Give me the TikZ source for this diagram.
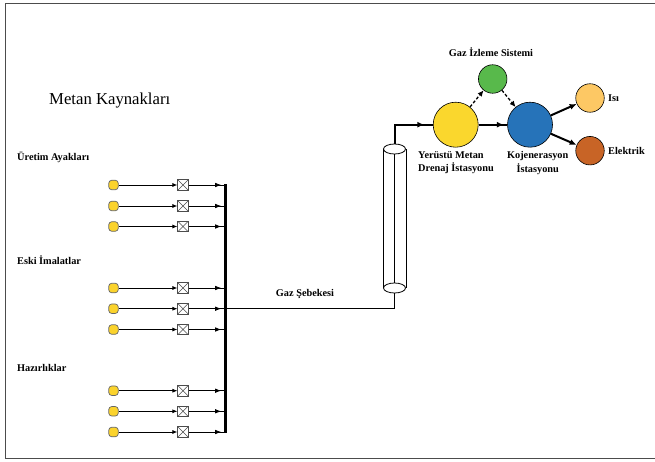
\documentclass[tikz,border=0pt]{standalone}
\usepackage{fontspec}
\setmainfont{Liberation Serif}
\usetikzlibrary{arrows.meta,decorations.markings,shapes.geometric}

\begin{document}
\begin{tikzpicture}[x=1pt,y=-1pt,thin,
  source node/.style={rectangle,rounded corners=3pt,draw=black!60,fill=srcyellow,
    minimum size=9.5pt,inner sep=0pt,line width=.7pt},
  valve node/.style={rectangle,draw=black!70,fill=white,minimum size=10.5pt,inner sep=0pt,
    line width=.6pt,
    path picture={\draw[line width=.5pt] (path picture bounding box.north west) -- (path picture bounding box.south east)
      (path picture bounding box.north east) -- (path picture bounding box.south west);}},
  station node/.style={circle,draw=black,line width=.6pt,inner sep=0pt,minimum size=45pt},
  small node/.style={circle,draw=black,line width=.6pt,inner sep=0pt,minimum size=28.5pt},
  label node/.style={font=\fontsize{10.3}{13.7}\selectfont\bfseries,inner sep=0pt,align=center},
  head at/.style={decoration={markings,mark=at position #1 with {\arrow{Latex[length=6pt,width=4.5pt]}}},postaction={decorate}},
  big head at/.style={decoration={markings,mark=at position #1 with {\arrow{Latex[length=7pt,width=6pt]}}},postaction={decorate}},
  thin line/.style={line width=.8pt},
  thick line/.style={line width=2pt}]
  \definecolor{srcyellow}{HTML}{FBD32C}
  \useasboundingbox (0,0) rectangle (655,462);

  % frame, open on the right
  \coordinate (ftr) at (655,4);
  \coordinate (ftl) at (5,4);
  \coordinate (fbl) at (5,458);
  \coordinate (fbr) at (655,458);
  \draw[black!70,line width=1pt] (ftr) -- (ftl) -- (fbl) -- (fbr);

  \node[font=\fontsize{16.7}{18}\selectfont,inner sep=0pt,anchor=west] (title) at (49,100.5) {Metan Kaynakları};
  \node[label node,anchor=west] (ure) at (17,157.5) {Üretim Ayakları};
  \node[label node,anchor=west] (esk) at (17,260) {Eski İmalatlar};
  \node[label node,anchor=west] (haz) at (17,368) {Hazırlıklar};

  % sources, valves, bus
  \foreach \i/\y in {1/185,2/206,3/226.5,4/288,5/308.7,6/329.5,7/390.7,8/411.3,9/432} {
    \node[source node] (src\i) at (113.5,\y) {};
    \node[valve node] (val\i) at (183,\y) {};
    \coordinate (bus\i) at (225.7,\y);
    \draw[thin line,-{Latex[length=5pt,width=4pt]}] (src\i) -- (val\i);
    \draw[thin line,head at=.88] (val\i) -- (bus\i);
  }
  \draw[line width=2.7pt,line cap=rect] (bus1) -- (bus9);

  % pipe
  \node[ellipse,draw,fill=white,minimum width=22pt,minimum height=10pt,inner sep=0pt,line width=.8pt] (ctop) at (394.5,149) {};
  \node[ellipse,draw,fill=white,minimum width=22pt,minimum height=10pt,inner sep=0pt,line width=.8pt] (cbot) at (394.5,288) {};
  \draw[thin line] (ctop.west) -- (cbot.west) (ctop.east) -- (cbot.east) (ctop.south) -- (cbot.north);
  \draw[line width=1.5pt] (bus5) -| (cbot.south);
  \node[label node] (gaz) at (305,294) {Gaz Şebekesi};

  % stations
  \node[station node,fill={rgb,255:red,250;green,215;blue,45}] (yer) at (455.7,124.7) {};
  \node[station node,fill={rgb,255:red,38;green,115;blue,185}] (koj) at (530,124.7) {};
  \node[small node,fill={rgb,255:red,88;green,185;blue,75}] (izl) at (492.7,79) {};
  \node[small node,fill={rgb,255:red,253;green,200;blue,100}] (isi) at (590,98) {};
  \node[small node,fill={rgb,255:red,200;green,100;blue,38}] (ele) at (590,150.7) {};

  \node[label node] (izltxt) at (491,52) {Gaz İzleme Sistemi};
  \node[label node,anchor=north west,align=left] (yertxt) at (418,151) {Yerüstü Metan\\Drenaj İstasyonu};
  \node[label node,anchor=north] (kojtxt) at (537.7,151) {Kojenerasyon\\İstasyonu};
  \node[label node,anchor=west] (isitxt) at (608,98) {Isı};
  \node[label node,anchor=west] (eletxt) at (608,150.7) {Elektrik};

  \draw[thick line,big head at=.85] (ctop.north) |- (yer);
  \path[thick line]
  (yer) edge[big head at=.88] (koj)
  (koj) edge[-{Latex[length=7pt,width=6pt]}] (isi)
  (koj) edge[-{Latex[length=7pt,width=6pt]}] (ele)
  ;
  \path[line width=1.3pt,densely dashed,-{Latex[length=6pt,width=5.5pt]}]
  (yer) edge (izl)
  (izl) edge (koj)
  ;
\end{tikzpicture}
\end{document}
